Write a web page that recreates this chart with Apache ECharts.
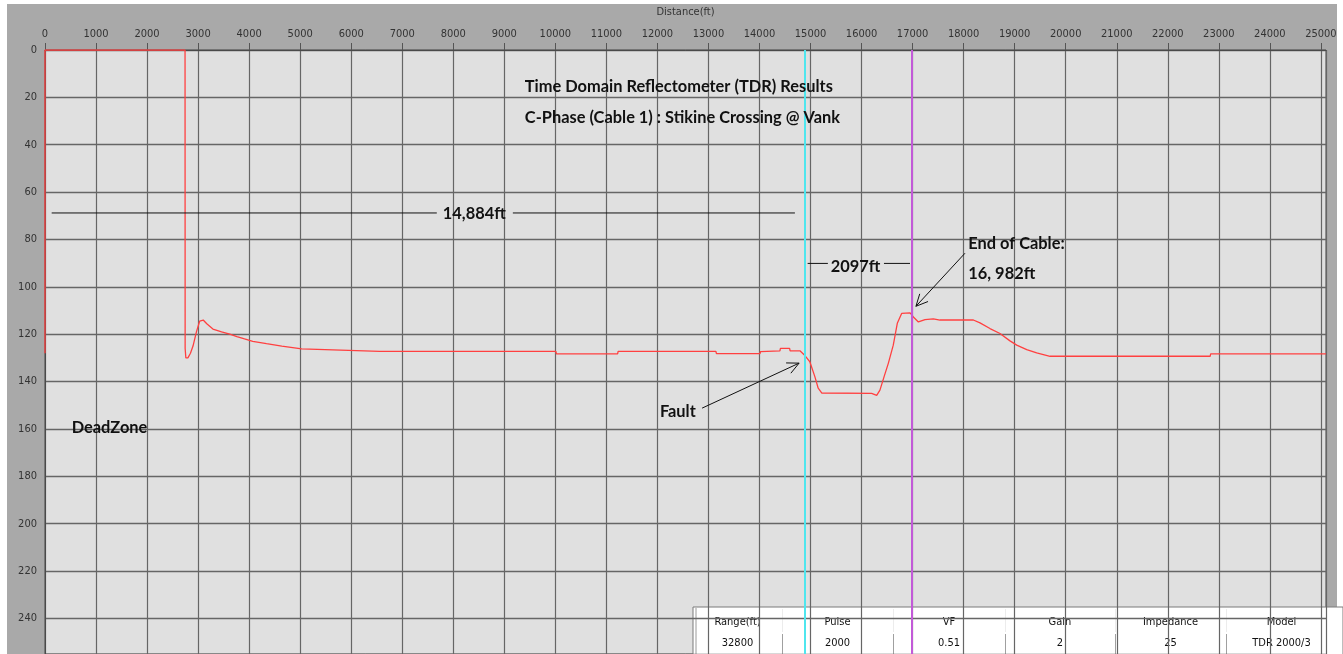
<!DOCTYPE html>
<html><head><meta charset="utf-8">
<script src="https://cdn.jsdelivr.net/npm/echarts@6/dist/echarts.min.js"></script>
<style>
html,body{margin:0;padding:0;background:#fff;overflow:hidden;}
#bg{position:absolute;left:7px;top:4px;width:1330px;height:650px;background:#a9a9a9;}
#c{position:absolute;left:0;top:0;width:1343px;height:654px;}
</style>
</head><body><div id="bg"></div><div id="c"></div>
<script>
// TDR trace (distance in ft, amplitude)
const distanceFt = [0,0,2744,2746,2760,2800,2850,2900,2967,3030,3100,3170,3290,3460,3620,3760,3910,4070,4340,4640,5030,6560,10010,10020,11220,11230,13146,13156,14010,14020,14400,14410,14590,14600,14792,14890,14988,15086,15150,15218,16197,16205,16296,16360,16440,16524,16621,16700,16785,16950,17015,17113,17243,17406,17536,18190,18320,18516,18712,18908,19040,19236,19431,19693,22830,22840,25100];
const amplitude  = [128,0,0,126,130,130,128,125,119,114.5,114,115.6,117.8,119,120,121,122,123,124,125,126.2,127.2,127.2,128.3,128.3,127.2,127.2,128.2,128.2,127.3,127,126,126,127,127,129,131.7,138,142.8,144.8,145,145.8,145.8,143.6,138,132.3,124.6,115.4,111.2,111,112.7,114.8,113.8,113.5,114,114,115.2,117.6,119.7,122.8,124.6,126.5,127.9,129.3,129.3,128.3,128.3];

// cursors
const cursorFt = [14884, 16982];
const cursorColors = ['#4fe6ee', '#c25ad8'];

// annotation texts (data coordinates: ft, amplitude)
const noteTexts = ['Time Domain Reflectometer (TDR) Results','C-Phase (Cable 1) : Stikine Crossing @ Vank','14,884ft','2097ft','End of Cable:','16, 982ft','Fault','DeadZone'];
const noteX = [9402, 9402, 7795, 15394, 18091, 18091, 12048, 523];
const noteY = [15.6, 28.7, 69.3, 91.7, 81.7, 94.3, 152.9, 159.3];

// annotation segments [x1, y1, x2, y2, arrowhead]
const segX1 = [131, 9167, 14943, 16439, 18026, 12875];
const segY1 = [68.8, 68.8, 90.1, 90.1, 85.8, 151.2];
const segX2 = [7677, 14694, 15340, 16949, 17065, 14776];
const segY2 = [68.8, 68.8, 90.1, 90.1, 108.2, 132.2];
const segArrow = [0, 0, 0, 0, 1, 1];

// settings table
const tableHeaders = ['Range(ft)','Pulse','VF','Gain','Impedance','Model'];
const tableValues  = ['32800','2000','0.51','2','25','TDR 2000/3'];

const tickFont = '"Liberation Sans Narrow", "DejaVu Sans Condensed", "Liberation Sans", sans-serif';
const noteFont = 'bold 16.4px Lato';

const trace = distanceFt.map((d, i) => [d, amplitude[i]]);
const notes = noteTexts.map((t, i) => [noteX[i], noteY[i], i]);
const segs = segX1.map((x, i) => [x, segY1[i], segX2[i], segY2[i], segArrow[i]]);

// table graphic
const tblLeft = 693, tblTop = 607, tblRight = 1343, tblBottom = 654;
const colEdges = [693, 782, 893, 1005, 1115, 1226, 1337];
const tableEls = [{type:'rect', shape:{x:tblLeft, y:tblTop, width:tblRight-tblLeft, height:tblBottom-tblTop+2}, style:{fill:'#ffffff', stroke:'#7a7a7a', lineWidth:1}}];
tableEls.push({type:'line', shape:{x1:tblLeft+3, y1:tblTop+1, x2:tblLeft+3, y2:tblBottom}, style:{stroke:'#9a9a9a', lineWidth:1}});
for (let i = 1; i < colEdges.length - 1; i++) {
  tableEls.push({type:'line', shape:{x1:colEdges[i]+0.5, y1:tblTop+2, x2:colEdges[i]+0.5, y2:632}, style:{stroke:'#ececec', lineWidth:1}});
  tableEls.push({type:'line', shape:{x1:colEdges[i]+0.5, y1:634, x2:colEdges[i]+0.5, y2:tblBottom}, style:{stroke:'#a0a0a0', lineWidth:1}});
}
tableHeaders.forEach((h, i) => {
  const cx = (colEdges[i] + colEdges[i+1]) / 2;
  tableEls.push({type:'text', x:cx, y:622, style:{text:h, fill:'#111', font:'11px ' + tickFont, align:'center', verticalAlign:'middle'}});
  tableEls.push({type:'text', x:cx, y:643, style:{text:tableValues[i], fill:'#111', font:'11px ' + tickFont, align:'center', verticalAlign:'middle'}});
});

const chart = echarts.init(document.getElementById('c'), null, {renderer:'canvas'});
chart.setOption({
  backgroundColor: 'transparent',
  animation: false,
  grid: {left:45, right:17, top:50, bottom:0, show:true, backgroundColor:'#e0e0e0', borderColor:'#4a4a4a', borderWidth:1},
  xAxis: {
    type:'value', position:'top', min:0, max:25100, interval:1000,
    name:'Distance(ft)', nameLocation:'middle', nameGap:32,
    nameTextStyle:{color:'#333', fontFamily:tickFont, fontSize:11},
    axisLine:{show:true, lineStyle:{color:'#4a4a4a'}},
    axisTick:{show:true, length:7, lineStyle:{color:'#555'}},
    axisLabel:{color:'#333', fontFamily:tickFont, fontSize:11, margin:10, showMaxLabel:false, interval:0, formatter: v => String(v)},
    splitLine:{show:true, lineStyle:{color:'#666', width:1.2}}
  },
  yAxis: {
    type:'value', inverse:true, min:0, max:255, interval:20,
    axisLine:{show:true, lineStyle:{color:'#4a4a4a'}},
    axisTick:{show:false},
    axisLabel:{color:'#333', fontFamily:tickFont, fontSize:11, margin:8, showMaxLabel:false, formatter: v => String(v)},
    splitLine:{show:true, lineStyle:{color:'#666', width:1.3}}
  },
  graphic: [{type:'group', z:100, children: tableEls}],
  series: [
    {
      type:'line', data:trace, showSymbol:false, z:5,
      lineStyle:{color:'#ff4040', width:1.3},
      markLine:{
        silent:true, symbol:['none','none'], label:{show:false}, z:6,
        data: cursorFt.map((v, i) => ({xAxis:v, lineStyle:{color:cursorColors[i], width:2, type:'solid', opacity:1}}))
      }
    },
    {
      type:'custom', data:segs, z:6, encode:{x:[0,2], y:[1,3]},
      renderItem: function(params, api) {
        const p1 = api.coord([api.value(0), api.value(1)]);
        const p2 = api.coord([api.value(2), api.value(3)]);
        const ch = [{type:'line', shape:{x1:p1[0], y1:p1[1], x2:p2[0], y2:p2[1]}, style:{stroke:'#111', lineWidth:1}}];
        if (api.value(4)) {
          const ang = Math.atan2(p1[1]-p2[1], p1[0]-p2[0]);
          [-0.45, 0.45].forEach(a => {
            ch.push({type:'line', shape:{x1:p2[0], y1:p2[1], x2:p2[0]+13*Math.cos(ang+a), y2:p2[1]+13*Math.sin(ang+a)}, style:{stroke:'#111', lineWidth:1}});
          });
        }
        return {type:'group', children:ch};
      }
    },
    {
      type:'custom', data:notes, z:7, encode:{x:0, y:1},
      renderItem: function(params, api) {
        const p = api.coord([api.value(0), api.value(1)]);
        return {type:'text', x:p[0], y:p[1], style:{text:noteTexts[api.value(2)], fill:'#111', font:noteFont, align:'left', verticalAlign:'middle'}};
      }
    }
  ]
});
</script></body></html>
